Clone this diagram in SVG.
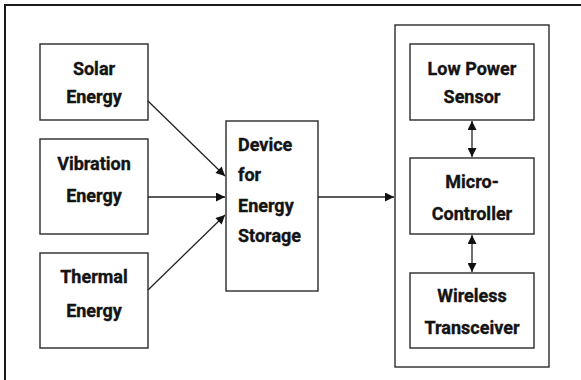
<svg xmlns="http://www.w3.org/2000/svg" width="581" height="380" viewBox="0 0 581 380">
  <style>
    .box { fill: #ffffff; stroke: #2a2a2a; stroke-width: 1.4; }
    .frame { fill: none; stroke: #1a1a1a; stroke-width: 2; }
    .lbl { font-family: Roboto, "Liberation Sans", sans-serif; font-weight: bold; font-size: 18px; fill: #141414; stroke: #141414; stroke-width: 0.35; }
    .c { text-anchor: middle; }
    .wire { fill: none; stroke: #222222; stroke-width: 1.3; }
  </style>
  <defs>
    <marker id="arrow" viewBox="0 0 10 10" refX="10" refY="5" markerWidth="11" markerHeight="9" markerUnits="userSpaceOnUse" orient="auto-start-reverse">
      <path d="M0,0 L10,5 L0,10 Z" fill="#111111"/>
    </marker>
  </defs>

  <rect width="581" height="380" fill="#ffffff"/>

  <!-- page frame: only top and left edges fall inside the canvas -->
  <path class="frame" d="M5,381 L5,5 L582,5"/>

  <!-- energy sources -->
  <g id="solar">
    <rect class="box" x="40" y="44" width="108" height="76"/>
    <text class="lbl c" x="94" y="75">Solar</text>
    <text class="lbl c" x="94" y="103">Energy</text>
  </g>
  <g id="vibration">
    <rect class="box" x="40" y="139" width="108" height="95"/>
    <text class="lbl c" x="94" y="170">Vibration</text>
    <text class="lbl c" x="94" y="202">Energy</text>
  </g>
  <g id="thermal">
    <rect class="box" x="40" y="253" width="108" height="95"/>
    <text class="lbl c" x="94" y="283">Thermal</text>
    <text class="lbl c" x="94" y="317">Energy</text>
  </g>

  <!-- storage -->
  <g id="storage">
    <rect class="box" x="226" y="121" width="92" height="170"/>
    <text class="lbl" x="238" y="151">Device</text>
    <text class="lbl" x="238" y="181">for</text>
    <text class="lbl" x="238" y="212">Energy</text>
    <text class="lbl" x="238" y="242">Storage</text>
  </g>

  <!-- sensor node -->
  <g id="node">
    <rect class="box" x="395" y="25" width="154" height="342"/>
  </g>
  <g id="sensor">
    <rect class="box" x="410" y="44" width="124" height="76"/>
    <text class="lbl c" x="472" y="75">Low Power</text>
    <text class="lbl c" x="472" y="103">Sensor</text>
  </g>
  <g id="mcu">
    <rect class="box" x="410" y="158" width="124" height="76"/>
    <text class="lbl c" x="472" y="188">Micro-</text>
    <text class="lbl c" x="472" y="220">Controller</text>
  </g>
  <g id="radio">
    <rect class="box" x="410" y="273" width="124" height="75"/>
    <text class="lbl c" x="472" y="302">Wireless</text>
    <text class="lbl c" x="472" y="334">Transceiver</text>
  </g>

  <!-- connectors -->
  <g id="connectors">
    <line class="wire" x1="148" y1="101" x2="225" y2="176" marker-end="url(#arrow)"/>
    <line class="wire" x1="148" y1="197" x2="225" y2="197" marker-end="url(#arrow)"/>
    <line class="wire" x1="148" y1="290" x2="225" y2="215" marker-end="url(#arrow)"/>
    <line class="wire" x1="318" y1="197" x2="394" y2="197" marker-end="url(#arrow)"/>
    <line class="wire" x1="472" y1="121" x2="472" y2="157" marker-start="url(#arrow)" marker-end="url(#arrow)"/>
    <line class="wire" x1="472" y1="235" x2="472" y2="272" marker-start="url(#arrow)" marker-end="url(#arrow)"/>
  </g>
</svg>
